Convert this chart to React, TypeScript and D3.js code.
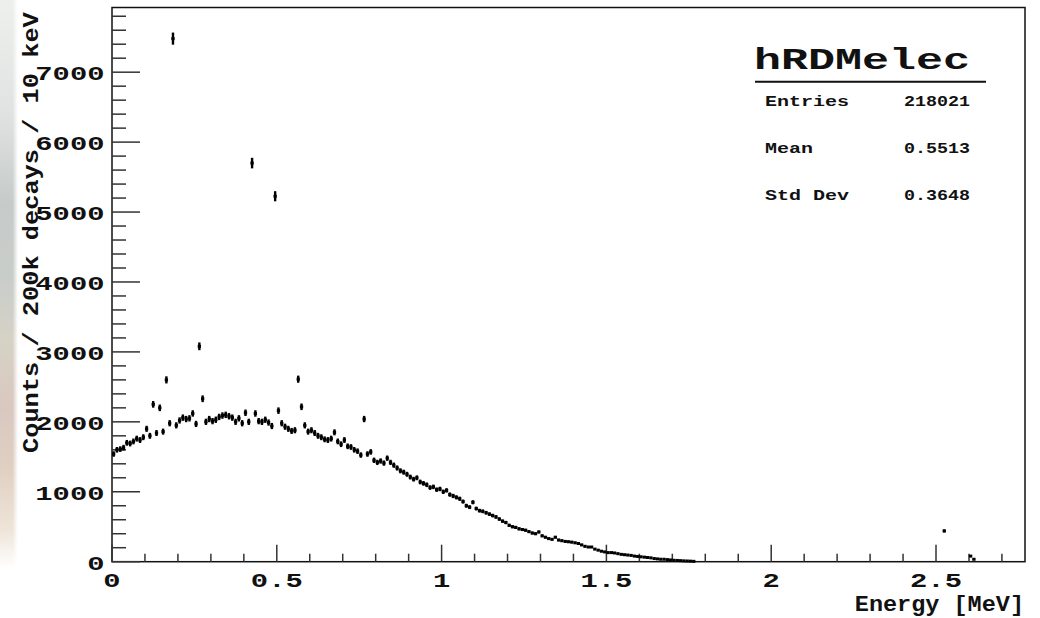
import React from 'react';
import * as d3 from 'd3';

const BIN_WIDTH = 0.01;
// counts per 10 keV bin, bins 0..176 (0.00 - 1.77 MeV)
const counts = [
  1540, 1600, 1610, 1630, 1700, 1690, 1720, 1760, 1740, 1780,
  1900, 1800, 2250, 1840, 2200, 1860, 2600, 1980, 7480, 1950,
  2020, 2060, 2040, 2050, 2120, 1970, 3080, 2330, 2000, 2040,
  2010, 2030, 2070, 2090, 2100, 2080, 2060, 2000, 2050, 1980,
  2130, 2000, 5700, 2120, 2010, 2000, 2030, 1990, 1940, 5226,
  2160, 1980, 1930, 1900, 1870, 1880, 2610, 2215, 1950, 1860,
  1880, 1840, 1800, 1780, 1750, 1740, 1760, 1850, 1720, 1680,
  1740, 1650, 1640, 1600, 1580, 1525, 2040, 1540, 1570, 1450,
  1420, 1440, 1410, 1480, 1420, 1380, 1340, 1300, 1280, 1250,
  1210, 1180, 1200, 1140, 1120, 1100, 1060, 1070, 1030, 1040,
  1000, 1020, 960, 940, 920, 900, 860, 800, 780, 850,
  760, 730, 720, 700, 680, 660, 640, 610, 580, 560,
  520, 500, 490, 470, 460, 450, 430, 410, 400, 425,
  370, 350, 330, 320, 350, 310, 300, 290, 285, 280,
  270, 260, 240, 220, 210, 210, 180, 165, 150, 140,
  130, 130, 125, 115, 105, 100, 95, 90, 80, 75,
  70, 65, 60, 55, 45, 40, 35, 35, 30, 25,
  20, 18, 15, 12, 10, 8, 5,
];
const tailBins = [252, 260, 261];
const tailCounts = [440, 80, 35];

const xMajorTicks = [0, 0.5, 1, 1.5, 2, 2.5];
const xTickLabels = ['0', '0.5', '1', '1.5', '2', '2.5'];
const yMajorTicks = [0, 1000, 2000, 3000, 4000, 5000, 6000, 7000];
const yTickLabels = ['0', '1000', '2000', '3000', '4000', '5000', '6000', '7000'];
const histName = 'hRDMelec';
const statsLabels = ['Entries', 'Mean', 'Std Dev'];
const statsValues = ['218021', '0.5513', '0.3648'];
const xTitle = 'Energy [MeV]';
const yTitle = 'Counts / 200k decays / 10 keV';

const MONO = '"Liberation Mono", "DejaVu Sans Mono", monospace';

export default function App() {
  const W = 1040, H = 618;
  const left = 112, right = 1025, top = 7.5, bottom = 561.7;
  const x = d3.scaleLinear().domain([0, 2.77]).range([left, right]);
  const y = d3.scaleLinear().domain([0, 7925]).range([bottom, top]);

  const bins: { i: number; v: number }[] = [];
  counts.forEach((v, i) => { if (v > 0) bins.push({ i, v }); });
  tailBins.forEach((b, k) => bins.push({ i: b, v: tailCounts[k] }));

  const xMinor = d3.range(0, 2.7001, 0.1);
  const yMinor = d3.range(0, 7801, 200);

  const tickColor = '#333';

  return (
    <svg width={W} height={H} style={{ position: 'absolute', left: 0, top: 0, background: '#fff' }}>
      <defs>
        <linearGradient id="strip" x1="0" y1="0" x2="0" y2="1">
          <stop offset="0" stopColor="#eef0ee" />
          <stop offset="0.18" stopColor="#e0e3e1" />
          <stop offset="0.33" stopColor="#c6cbc9" />
          <stop offset="0.45" stopColor="#c9cdca" />
          <stop offset="0.55" stopColor="#d6d2c6" />
          <stop offset="0.66" stopColor="#d9c8c0" />
          <stop offset="0.76" stopColor="#e0d0c2" />
          <stop offset="0.86" stopColor="#efe5da" />
          <stop offset="0.92" stopColor="#ffffff" />
        </linearGradient>
        <linearGradient id="fade" x1="0" y1="0" x2="1" y2="0">
          <stop offset="0" stopColor="#fff" />
          <stop offset="0.7" stopColor="#fff" />
          <stop offset="1" stopColor="#000" />
        </linearGradient>
        <mask id="fadeMask">
          <rect x={0} y={0} width={18} height={H} fill="url(#fade)" />
        </mask>
      </defs>
      <rect x={0} y={0} width={18} height={H} fill="url(#strip)" mask="url(#fadeMask)" />

      {/* frame */}
      <rect x={left} y={top} width={right - left} height={bottom - top} fill="none" stroke="#111" strokeWidth={1.5} />

      {/* x ticks */}
      {xMinor.map((t, k) => {
        const major = Math.abs(t * 2 - Math.round(t * 2)) < 1e-6;
        return (
          <line key={'xt' + k} x1={x(t)} x2={x(t)} y1={bottom} y2={bottom - (major ? 17 : 8)} stroke={tickColor} strokeWidth={1.5} />
        );
      })}
      {/* y ticks */}
      {yMinor.map((t, k) => {
        const major = t % 1000 === 0;
        return (
          <line key={'yt' + k} x1={left} x2={left + (major ? 28 : 14)} y1={y(t)} y2={y(t)} stroke={tickColor} strokeWidth={1.5} />
        );
      })}

      {/* data */}
      {bins.map(({ i, v }) => {
        const x0 = x(i * BIN_WIDTH), x1 = x((i + 1) * BIN_WIDTH);
        const xc = (x0 + x1) / 2;
        const e = Math.sqrt(v);
        return (
          <g key={'b' + i}>
            <line x1={x0} x2={x1} y1={y(v)} y2={y(v)} stroke="#000" strokeWidth={3} />
            <line x1={xc} x2={xc} y1={y(v + e)} y2={y(Math.max(0, v - e))} stroke="#000" strokeWidth={2.4} />
          </g>
        );
      })}

      {/* y tick labels */}
      {yMajorTicks.map((t, k) => (
        <text key={'yl' + k} x={104.5} y={y(t) + 8.3} textAnchor="end" fontFamily={MONO} fontWeight="bold" fontSize={21}
          textLength={yTickLabels[k].length * 17.3} lengthAdjust="spacingAndGlyphs" fill="#111">
          {yTickLabels[k]}
        </text>
      ))}
      {/* x tick labels */}
      {xMajorTicks.map((t, k) => (
        <text key={'xl' + k} x={x(t)} y={587} textAnchor="middle" fontFamily={MONO} fontWeight="bold" fontSize={21}
          textLength={xTickLabels[k].length * 17.3} lengthAdjust="spacingAndGlyphs" fill="#111">
          {xTickLabels[k]}
        </text>
      ))}

      {/* axis titles */}
      <text x={1024} y={611} textAnchor="end" fontFamily={MONO} fontWeight="bold" fontSize={22}
        textLength={xTitle.length * 14.1} lengthAdjust="spacingAndGlyphs" fill="#111">{xTitle}</text>
      <text transform="translate(38,453) rotate(-90)" x={0} y={0} textAnchor="start" fontFamily={MONO} fontWeight="bold" fontSize={22}
        textLength={yTitle.length * 15.2} lengthAdjust="spacingAndGlyphs" fill="#111">{yTitle}</text>

      {/* stats box */}
      <text x={862} y={68.5} textAnchor="middle" fontFamily={MONO} fontWeight="bold" fontSize={29}
        textLength={histName.length * 27} lengthAdjust="spacingAndGlyphs" fill="#111">{histName}</text>
      <line x1={755} x2={986} y1={81.7} y2={81.7} stroke="#111" strokeWidth={2} />
      {statsLabels.map((s, k) => (
        <g key={'st' + k}>
          <text x={765} y={106 + k * 47.2} fontFamily={MONO} fontWeight="bold" fontSize={14}
            textLength={s.length * 12} lengthAdjust="spacingAndGlyphs" fill="#111">{s}</text>
          <text x={970} y={106 + k * 47.2} textAnchor="end" fontFamily={MONO} fontWeight="bold" fontSize={14}
            textLength={statsValues[k].length * 11} lengthAdjust="spacingAndGlyphs" fill="#111">{statsValues[k]}</text>
        </g>
      ))}
    </svg>
  );
}
